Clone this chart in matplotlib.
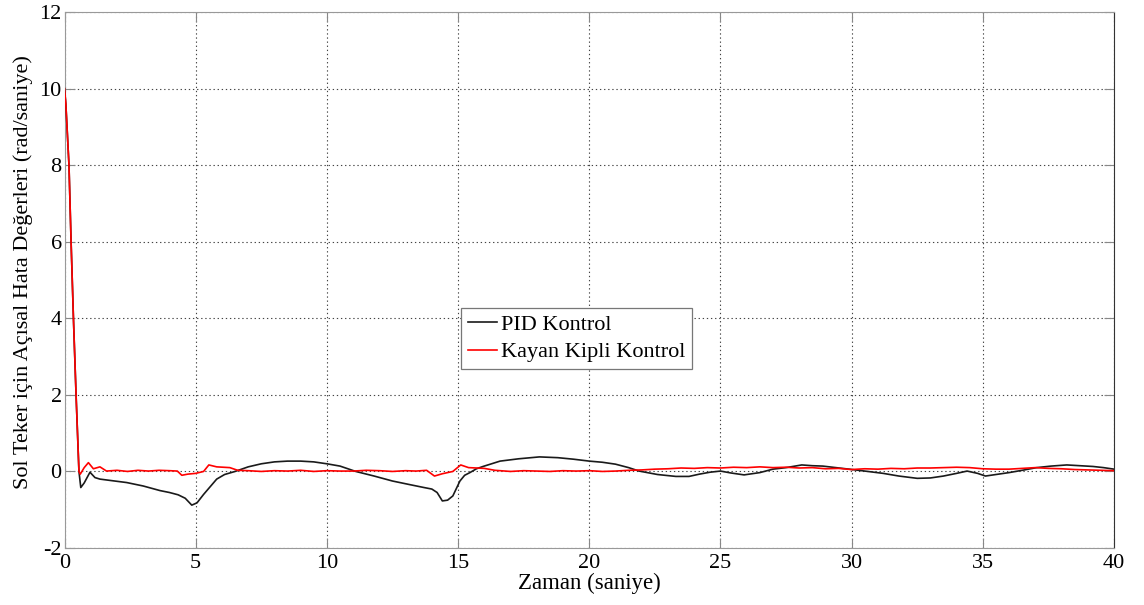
import matplotlib
matplotlib.use("Agg")
import matplotlib.pyplot as plt

plt.rcParams['font.family'] = ['Liberation Serif', 'DejaVu Serif']
plt.rcParams['axes.unicode_minus'] = False

# PID Kontrol (black)
t_pid = [0, 0.05, 0.17, 0.25, 0.34, 0.44, 0.55, 0.62, 0.75, 0.97, 1.16, 1.35,
         1.8, 2.37, 3.0, 3.64, 4.0, 4.33, 4.6, 4.85, 5.05, 5.3, 5.55, 5.8, 6.1,
         6.5, 7.0, 7.5, 8.0, 8.5, 9.0, 9.5, 10.0, 10.5, 11.1, 11.8, 12.5, 13.2,
         13.7, 14.0, 14.2, 14.4, 14.6, 14.8, 15.07, 15.25, 15.45, 15.7, 15.95,
         16.6, 17.3, 18.1, 18.8, 19.4, 20.0, 20.5, 21.0, 21.5, 21.9, 22.6, 23.3,
         23.8, 24.2, 24.6, 25.0, 25.4, 25.9, 26.5, 27.0, 27.5, 28.1, 28.5, 28.9,
         29.4, 29.9, 30.5, 31.2, 31.8, 32.5, 33.0, 33.5, 34.0, 34.4, 34.8, 35.1,
         35.5, 36.0, 36.5, 37.05, 37.6, 38.2, 38.7, 39.2, 39.6, 40.0]
y_pid = [10, 9.6, 8, 6, 4, 2, 0, -0.42, -0.3, -0.02, -0.16, -0.2,
         -0.24, -0.29, -0.38, -0.5, -0.55, -0.61, -0.7, -0.88, -0.82, -0.6, -0.4, -0.2, -0.08,
         0.0, 0.12, 0.2, 0.25, 0.27, 0.27, 0.25, 0.2, 0.14, 0.0, -0.12, -0.25, -0.35,
         -0.42, -0.46, -0.55, -0.77, -0.75, -0.64, -0.25, -0.1, -0.03, 0.07, 0.13,
         0.27, 0.33, 0.38, 0.36, 0.32, 0.27, 0.24, 0.19, 0.1, 0.01, -0.08, -0.13,
         -0.13, -0.07, -0.02, 0.01, -0.04, -0.09, -0.03, 0.06, 0.1, 0.17, 0.15, 0.14,
         0.1, 0.06, 0.01, -0.05, -0.12, -0.18, -0.17, -0.12, -0.05, 0.01, -0.05, -0.12,
         -0.08, -0.03, 0.03, 0.1, 0.14, 0.17, 0.15, 0.13, 0.1, 0.06]

# Kayan Kipli Kontrol (red)
t_smc = [0, 0.05, 0.17, 0.25, 0.34, 0.44, 0.55, 0.6, 0.75, 0.91, 1.1, 1.35, 1.6,
         2.0, 2.4, 2.8, 3.2, 3.6, 4.0, 4.3, 4.47, 4.7, 5.0, 5.3, 5.5, 5.8, 6.3,
         6.6, 7.0, 7.5, 8.0, 8.5, 9.0, 9.5, 10.0, 10.5, 11.0, 11.5, 12.0, 12.5,
         13.0, 13.4, 13.8, 14.1, 14.4, 14.8, 15.1, 15.4, 16.0, 16.4, 17.0, 17.5,
         18.0, 18.5, 19.0, 19.5, 20.0, 20.5, 21.0, 21.5, 22.0, 22.5, 23.0, 23.5,
         24.0, 24.5, 25.0, 25.5, 26.0, 26.5, 27.0, 27.5, 28.0, 28.5, 29.0, 29.5,
         30.0, 30.5, 31.0, 31.5, 32.0, 32.5, 33.0, 33.5, 34.0, 34.5, 35.0, 35.5,
         36.0, 36.5, 37.0, 37.5, 38.0, 38.5, 39.0, 39.5, 40.0]
y_smc = [10, 9.6, 8, 6, 4, 2, 0, -0.07, 0.1, 0.23, 0.07, 0.12, 0.01,
         0.03, 0.0, 0.03, 0.01, 0.03, 0.02, 0.01, -0.1, -0.07, -0.05, 0.0, 0.17, 0.12, 0.1,
         0.03, 0.02, 0.0, 0.02, 0.01, 0.03, 0.0, 0.02, 0.01, 0.01, 0.03, 0.02, 0.0,
         0.02, 0.01, 0.03, -0.12, -0.06, 0.0, 0.17, 0.1, 0.08, 0.03, 0.0, 0.02,
         0.01, 0.0, 0.02, 0.01, 0.02, 0.0, 0.01, 0.03, 0.04, 0.06, 0.07, 0.09,
         0.08, 0.1, 0.09, 0.11, 0.1, 0.12, 0.1, 0.11, 0.09, 0.1, 0.07, 0.08,
         0.05, 0.07, 0.06, 0.08, 0.07, 0.09, 0.09, 0.1, 0.11, 0.1, 0.07, 0.06,
         0.06, 0.08, 0.1, 0.08, 0.07, 0.05, 0.04, 0.03, 0.02]

x_ticks = [0, 5, 10, 15, 20, 25, 30, 35, 40]
y_ticks = [-2, 0, 2, 4, 6, 8, 10, 12]

fig = plt.figure(figsize=(11.44, 6.05), dpi=100)
ax = fig.add_axes([0.0564, 0.0942, 0.9174, 0.8858])

ax.plot(t_pid, y_pid, color='#1a1a1a', lw=1.2, label='PID Kontrol', zorder=3)
ax.plot(t_smc, y_smc, color='#ff0000', lw=1.2, label='Kayan Kipli Kontrol', zorder=4)

ax.set_xlim(0, 40)
ax.set_ylim(-2, 12)
ax.set_xticks(x_ticks)
ax.set_yticks(y_ticks)
ax.tick_params(direction='in', length=7, width=0.8, color='#888888',
               labelsize=16, top=True, right=True)
ax.tick_params(axis='x', pad=4)
ax.tick_params(axis='y', pad=2)
ax.grid(True, color='#444444', linestyle=(0, (1.2, 2.5)), linewidth=0.8)
for s in ['left', 'bottom', 'top']:
    ax.spines[s].set_color('#999999')
ax.spines['right'].set_color('#333333')

ax.set_xlabel('Zaman (saniye)', fontsize=16.5, labelpad=0)
ax.set_ylabel('Sol Teker için Açısal Hata Değerleri (rad/saniye)', fontsize=16)
ax.yaxis.set_label_coords(-0.030, 0.515)

leg = ax.legend(loc='lower left', bbox_to_anchor=(0.378, 0.334), fontsize=16,
                frameon=True, fancybox=False, edgecolor='#777777', framealpha=1,
                handlelength=1.3, handletextpad=0.2, borderpad=0.3, labelspacing=0.3,
                borderaxespad=0)
leg.get_frame().set_linewidth(0.9)

fig.savefig('out.png', dpi=100)
